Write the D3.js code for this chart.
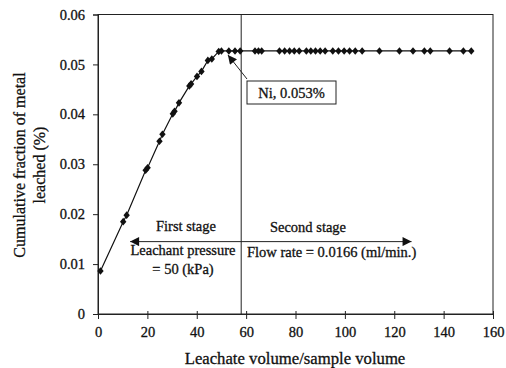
<!DOCTYPE html>
<html><head><meta charset="utf-8">
<script src="https://cdn.jsdelivr.net/npm/d3@7"></script>
<style>body{margin:0;background:#fff;} text{font-family:"Liberation Serif","Times New Roman",serif;fill:#111;stroke:#111;stroke-width:0.3px;}</style>
</head><body>
<svg id="c" width="506" height="368"></svg>
<script>
const xVals = [1.0,10.2,11.6,19.3,20.1,24.9,26.1,30.3,31.0,32.8,37.0,37.7,40.1,41.9,44.5,46.1,48.9,50.0,53.0,55.5,57.6,63.6,65.0,66.3,73.5,75.6,77.6,79.5,81.5,84.4,86.2,88.1,90.0,92.0,95.1,97.4,99.7,101.9,104.2,107.0,114.0,122.1,127.6,132.2,134.6,142.4,148.0,151.2];
const yVals = [0.0086,0.0185,0.0198,0.0288,0.0293,0.0346,0.0360,0.0401,0.0406,0.0423,0.0457,0.0461,0.0476,0.0486,0.0508,0.0511,0.0526,0.0527,0.0527,0.0527,0.0527,0.0527,0.0527,0.0527,0.0527,0.0527,0.0527,0.0527,0.0527,0.0527,0.0527,0.0527,0.0527,0.0527,0.0527,0.0527,0.0527,0.0527,0.0527,0.0527,0.0527,0.0527,0.0527,0.0527,0.0527,0.0527,0.0527,0.0527];
const xTicks = [0,20,40,60,80,100,120,140,160];
const yTicks = [0,0.01,0.02,0.03,0.04,0.05,0.06];
const yTickLabels = ["0","0.01","0.02","0.03","0.04","0.05","0.06"];
const stageBoundary = 58;
const stageArrow = {from:13, to:127, y:0.0145};
const peak = {x:51, y:0.0527, label:"Ni, 0.053%"};

const svg = d3.select("#c");
const x = d3.scaleLinear().domain([0,160]).range([98,493]);
const y = d3.scaleLinear().domain([0,0.06]).range([314,14.5]);

const defs = svg.append("defs");
defs.append("marker").attr("id","ah").attr("viewBox","0 0 10 10").attr("refX",10).attr("refY",5)
  .attr("markerWidth",16).attr("markerHeight",9).attr("markerUnits","userSpaceOnUse").attr("orient","auto-start-reverse")
  .append("path").attr("d","M0,0L10,5L0,10Z").attr("fill","#111");

// frame
svg.append("rect").attr("x",x(0)).attr("y",y(0.06)).attr("width",x(160)-x(0)).attr("height",y(0)-y(0.06))
  .attr("fill","none").attr("stroke","#222").attr("stroke-width",1);

// axes
const yAxis = svg.append("g").attr("transform",`translate(${x(0)},0)`)
  .call(d3.axisLeft(y).tickValues(yTicks).tickFormat((d,i)=>yTickLabels[i]).tickSize(5).tickPadding(8));
const xAxis = svg.append("g").attr("transform",`translate(0,${y(0)})`)
  .call(d3.axisBottom(x).tickValues(xTicks).tickSize(5).tickPadding(8));
[xAxis,yAxis].forEach(g=>{
  g.select(".domain").attr("stroke","#222");
  g.selectAll(".tick line").attr("stroke","#222");
  g.selectAll("text").attr("font-size",14.5).attr("font-family","Liberation Serif").attr("fill","#111");
});
xAxis.selectAll(".tick line").attr("y1",-3);

// stage boundary
svg.append("line").attr("x1",x(stageBoundary)).attr("x2",x(stageBoundary)).attr("y1",y(0)).attr("y2",y(0.06))
  .attr("stroke","#222").attr("stroke-width",1);

// stage arrow
svg.append("line").attr("x1",x(stageArrow.from)).attr("x2",x(stageArrow.to)).attr("y1",y(stageArrow.y)).attr("y2",y(stageArrow.y))
  .attr("stroke","#222").attr("stroke-width",1).attr("marker-start","url(#ah)").attr("marker-end","url(#ah)");

// data line
const pts = xVals.map((v,i)=>[v,yVals[i]]);
svg.append("path").datum(pts).attr("fill","none").attr("stroke","#111").attr("stroke-width",1.2)
  .attr("d",d3.line().x(d=>x(d[0])).y(d=>y(d[1])));
svg.append("g").selectAll("path").data(pts).join("path")
  .attr("transform",d=>`translate(${x(d[0])},${y(d[1])})`)
  .attr("d","M0,-3.8L3.2,0L0,3.8L-3.2,0Z").attr("fill","#111");

// annotation
const bx = 247, by = 81, bw = 89, bh = 23;
svg.append("line").attr("x1",bx).attr("y1",by-2).attr("x2",x(peak.x)+4).attr("y2",y(peak.y)+4)
  .attr("stroke","#222").attr("stroke-width",1).attr("marker-end","url(#ah)");
svg.append("rect").attr("x",bx).attr("y",by).attr("width",bw).attr("height",bh).attr("fill","#fff").attr("stroke","#222");
svg.append("text").attr("x",bx+bw/2).attr("y",by+16.5).attr("text-anchor","middle").attr("font-size",14.5).text(peak.label);

// stage texts
const t = (tx,ty,s,anchor="middle")=>svg.append("text").attr("x",tx).attr("y",ty).attr("text-anchor",anchor).attr("font-size",14.5).text(s);
t(186,231,"First stage");
t(183,255,"Leachant pressure");
t(183,274,"= 50 (kPa)");
t(308,232,"Second stage");
t(247,257,"Flow rate = 0.0166 (ml/min.)","start");

// axis titles
svg.append("text").attr("x",295).attr("y",364).attr("text-anchor","middle").attr("font-size",16.7).text("Leachate volume/sample volume");
const yl = svg.append("text").attr("transform","translate(25,165) rotate(-90)").attr("text-anchor","middle").attr("font-size",16);
yl.append("tspan").attr("x",0).attr("dy",0).text("Cumulative fraction of metal");
yl.append("tspan").attr("x",0).attr("dy",20).text("leached (%)");
</script>
</body></html>
